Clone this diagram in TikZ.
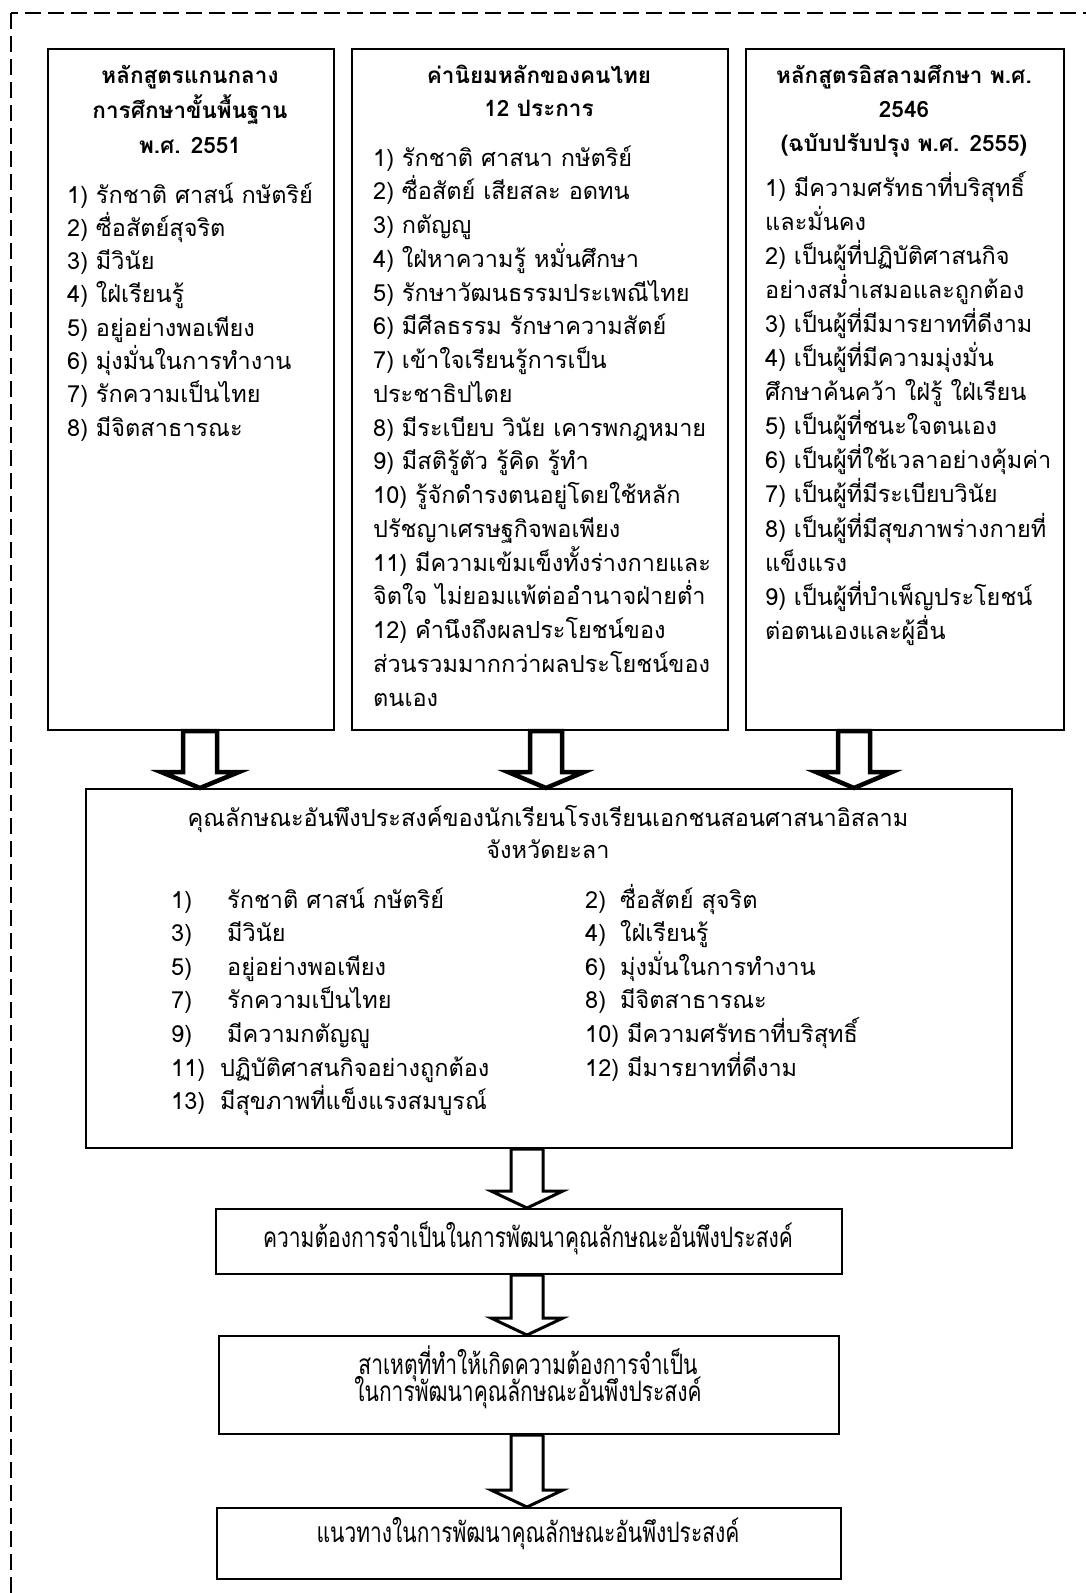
\documentclass[tikz,border=0pt]{standalone}
\usepackage{fontspec}
\setmainfont{Loma}[Script=Thai]
\newfontfamily\condfont{Loma}[Script=Thai,FakeStretch=0.75]
\usetikzlibrary{calc}
\newcommand\barrow[7]{%
  \draw[#1] let \p1=(#3.south), \p2=(#4.north) in
    ({#2pt-#5pt},\y1) -- ({#2pt+#5pt},\y1) -- ({#2pt+#5pt},{\y2+#7pt})
    -- ({#2pt+#6pt},{\y2+#7pt}) -- (#2pt,\y2) -- ({#2pt-#6pt},{\y2+#7pt})
    -- ({#2pt-#5pt},{\y2+#7pt}) -- cycle;}
\tikzset{
  border/.style={draw, line width=2.2pt, dash pattern=on 16pt off 7pt},
  box/.style={draw, line width=2.2pt, inner sep=0pt, anchor=north west},
  lbox/.style={draw, line width=2pt, inner sep=0pt, anchor=north west},
  itemtxt/.style={anchor=west, inner sep=0pt, text height=18pt, text depth=6pt,
    font=\fontsize{23.5}{30}\selectfont},
  titletxt/.style={anchor=center, inner sep=0pt, text height=18pt, text depth=6pt,
    font=\fontsize{22.5}{30}\selectfont\bfseries},
  midtxt/.style={anchor=center, inner sep=0pt, text height=18pt, text depth=6pt,
    font=\fontsize{23.5}{30}\selectfont},
  lowtxt/.style={anchor=center, inner sep=0pt, text height=21pt, text depth=7pt,
    font=\condfont\fontsize{28}{32}\selectfont},
  toparrow/.style={draw, fill=white, line width=4.5pt, line join=miter},
  lowarrow/.style={draw, fill=white, line width=3pt, line join=miter},
}
\begin{document}
\begin{tikzpicture}[x=1pt,y=-1pt]
\useasboundingbox (0,0) rectangle (1086,1593);
\begin{scope}
  \clip (0,0) rectangle (1086,1593);
  \draw[border] (11,13) rectangle (1110,1620);
\end{scope}

% boxes
\node[box, minimum width=286pt, minimum height=681pt] (b1) at (47,48) {};
\node[box, minimum width=376pt, minimum height=681pt] (b2) at (351,48) {};
\node[box, minimum width=318pt, minimum height=681pt] (b3) at (745,48) {};
\node[lbox, minimum width=926pt, minimum height=359pt] (big) at (85,788) {};
\node[lbox, minimum width=626pt, minimum height=65pt] (c1) at (215,1208) {};
\node[lbox, minimum width=620pt, minimum height=98pt] (c2) at (218,1335) {};
\node[lbox, minimum width=624pt, minimum height=71pt] (c3) at (216,1507) {};

% left box
\node[titletxt] (t1a) at (190,77) {หลักสูตรแกนกลาง};
\node[titletxt] (t1b) at (190,112) {การศึกษาขั้นพื้นฐาน};
\node[titletxt] (t1c) at (190,147) {พ.ศ. 2551};
\foreach \t [count=\i from 0] in {%
  {1) รักชาติ ศาสน์ กษัตริย์},{2) ซื่อสัตย์สุจริต},{3) มีวินัย},{4) ใฝ่เรียนรู้},
  {5) อยู่อย่างพอเพียง},{6) มุ่งมั่นในการทำงาน},{7) รักความเป็นไทย},{8) มีจิตสาธารณะ}}
  \node[itemtxt] (la\i) at (67,{197+33.3*\i}) {\t};

% middle box
\node[titletxt] (t2a) at (539,77) {ค่านิยมหลักของคนไทย};
\node[titletxt] (t2b) at (539,110) {12 ประการ};
\foreach \t [count=\i from 0] in {%
  {1) รักชาติ ศาสนา กษัตริย์},{2) ซื่อสัตย์ เสียสละ อดทน},{3) กตัญญู},
  {4) ใฝ่หาความรู้ หมั่นศึกษา},{5) รักษาวัฒนธรรมประเพณีไทย},
  {6) มีศีลธรรม รักษาความสัตย์},{7) เข้าใจเรียนรู้การเป็น},{ประชาธิปไตย},
  {8) มีระเบียบ วินัย เคารพกฎหมาย},{9) มีสติรู้ตัว รู้คิด รู้ทำ},
  {10) รู้จักดำรงตนอยู่โดยใช้หลัก},{ปรัชญาเศรษฐกิจพอเพียง},
  {11) มีความเข้มเข็งทั้งร่างกายและ},{จิตใจ ไม่ยอมแพ้ต่ออำนาจฝ่ายต่ำ},
  {12) คำนึงถึงผลประโยชน์ของ},{ส่วนรวมมากกว่าผลประโยชน์ของ},{ตนเอง}}
  \node[itemtxt] (ma\i) at (373,{160+33.75*\i}) {\t};

% right box
\node[titletxt] (t3a) at (904,77) {หลักสูตรอิสลามศึกษา พ.ศ.};
\node[titletxt] (t3b) at (904,111) {2546};
\node[titletxt] (t3c) at (904,145) {(ฉบับปรับปรุง พ.ศ. 2555)};
\foreach \t [count=\i from 0] in {%
  {1) มีความศรัทธาที่บริสุทธิ์},{และมั่นคง},{2) เป็นผู้ที่ปฏิบัติศาสนกิจ},
  {อย่างสม่ำเสมอและถูกต้อง},{3) เป็นผู้ที่มีมารยาทที่ดีงาม},
  {4) เป็นผู้ที่มีความมุ่งมั่น},{ศึกษาค้นคว้า ใฝ่รู้ ใฝ่เรียน},
  {5) เป็นผู้ที่ชนะใจตนเอง},{6) เป็นผู้ที่ใช้เวลาอย่างคุ้มค่า},
  {7) เป็นผู้ที่มีระเบียบวินัย},{8) เป็นผู้ที่มีสุขภาพร่างกายที่},{แข็งแรง},
  {9) เป็นผู้ที่บำเพ็ญประโยชน์},{ต่อตนเองและผู้อื่น}}
  \node[itemtxt] (ra\i) at (765,{190+34.1*\i}) {\t};

% big box
\node[midtxt] (bt1) at (548,820) {คุณลักษณะอันพึงประสงค์ของนักเรียนโรงเรียนเอกชนสอนศาสนาอิสลาม};
\node[midtxt] (bt2) at (548,852) {จังหวัดยะลา};
\foreach \n/\w/\t [count=\i from 0] in {%
  1)/56/รักชาติ ศาสน์ กษัตริย์, 3)/56/มีวินัย, 5)/56/อยู่อย่างพอเพียง,
  7)/56/รักความเป็นไทย, 9)/56/มีความกตัญญู, 11)/49/ปฏิบัติศาสนกิจอย่างถูกต้อง,
  13)/49/มีสุขภาพที่แข็งแรงสมบูรณ์}
  \node[itemtxt] (bl\i) at (171,{902+33.6*\i}) {\makebox[\w pt][l]{\n}\t};
\foreach \t [count=\i from 0] in {%
  {\makebox[35pt][l]{2)}ซื่อสัตย์ สุจริต}, {\makebox[35pt][l]{4)}ใฝ่เรียนรู้},
  {\makebox[35pt][l]{6)}มุ่งมั่นในการทำงาน}, {\makebox[35pt][l]{8)}มีจิตสาธารณะ},
  {10) มีความศรัทธาที่บริสุทธิ์}, {12) มีมารยาทที่ดีงาม}}
  \node[itemtxt] (br\i) at (585,{902+33.6*\i}) {\t};

% lower boxes
\node[lowtxt] (ct1) at (528,1240) {ความต้องการจำเป็นในการพัฒนาคุณลักษณะอันพึงประสงค์};
\node[lowtxt] (ct2a) at (528,1367) {สาเหตุที่ทำให้เกิดความต้องการจำเป็น};
\node[lowtxt] (ct2b) at (528,1394) {ในการพัฒนาคุณลักษณะอันพึงประสงค์};
\node[lowtxt] (ct3) at (528,1535) {แนวทางในการพัฒนาคุณลักษณะอันพึงประสงค์};

% arrows
\barrow{toparrow}{200}{b1}{big}{17}{39}{16}
\barrow{toparrow}{546}{b2}{big}{16}{38}{16}
\barrow{toparrow}{854}{b3}{big}{16}{38}{16}
\barrow{lowarrow}{527}{big}{c1}{16}{36}{17}
\barrow{lowarrow}{527}{c1}{c2}{16}{36}{17}
\barrow{lowarrow}{527}{c2}{c3}{16}{36}{17}
\end{tikzpicture}
\end{document}
